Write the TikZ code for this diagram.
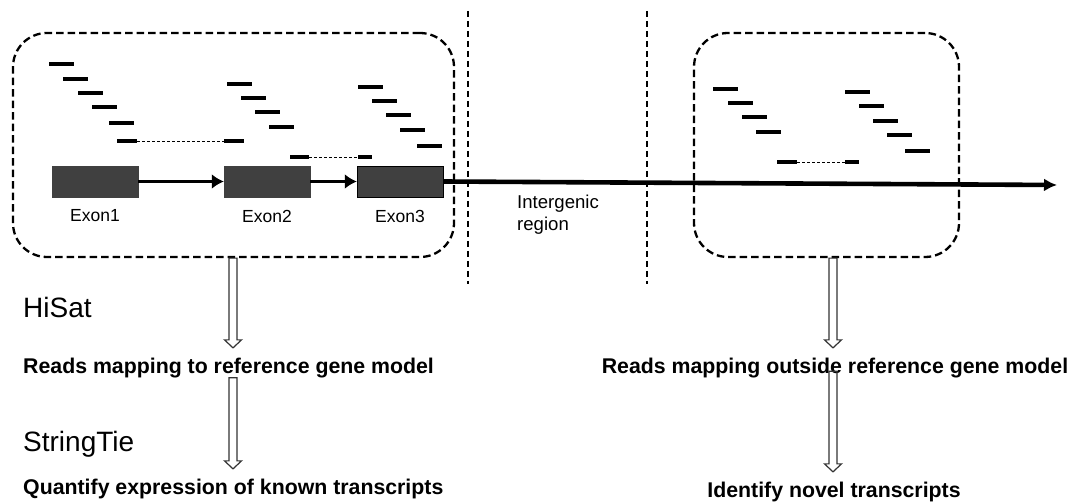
\documentclass[tikz,border=0pt]{standalone}
\usepackage{fontspec}
\setmainfont{Liberation Sans}
\usepackage{tikz}
\usetikzlibrary{arrows.meta}
\usetikzlibrary{calc}
\usetikzlibrary{positioning}

\begin{document}
\begin{tikzpicture}
	[
	x=1pt, y=-1pt,
	> = latex,
	readbox/.style = {draw, line width=2.3pt, dash pattern=on 7.5pt off 4pt, rounded corners=34pt, inner sep=0pt},
	exon/.style = {draw=black!75, fill=black!75, minimum width=86pt, minimum height=31pt, inner sep=0pt},
	exlabel/.style = {font=\fontsize{17.5}{20}\selectfont, inner sep=0pt},
	tool/.style = {font=\fontsize{28}{32}\selectfont, inner sep=0pt, anchor=base west},
	result/.style = {font=\fontsize{21.3}{25}\selectfont\bfseries, inner sep=0pt, anchor=base},
	read/.style = {line width=3.4pt},
	gap/.style = {line width=0.9pt, dash pattern=on 3pt off 2pt},
	border/.style = {line width=2.2pt, dash pattern=on 6.5pt off 3.5pt},
	link/.style = {line width=3.6pt, -{Latex[length=12pt, width=15pt]}},
	hollow/.style = {draw=black!80, line width=1.2pt, to path={let \p1=(\tikztostart), \p2=(\tikztotarget) in
		({\x1-4pt},\y1) -- ({\x1-4pt},{\y2+8pt}) -- ({\x1-8.5pt},{\y2+8pt}) -- (\x1,\y2) -- ({\x1+8.5pt},{\y2+8pt}) -- ({\x1+4pt},{\y2+8pt}) -- ({\x1+4pt},\y1) -- cycle}}
	]
	\useasboundingbox (0,0) rectangle (1083,502);
	\node[readbox, minimum width=441pt, minimum height=224pt] (lbox) at (233.5,145) {};
	\node[readbox, minimum width=265pt, minimum height=224pt] (rbox) at (826.5,145) {};
	\draw[border] (468,11) -- (468,284);
	\draw[border] (647,11) -- (647,284);
	\node[exon] (ex1) at (95,181.5) {};
	\node[exon] (ex2) at (267,181.5) {};
	\node[exon, draw=black] (ex3) at (400,181.5) {};
	\node[exlabel, below=12.5pt of ex1] (lab1) {Exon1};
	\node[exlabel, below=12.5pt of ex2] (lab2) {Exon2};
	\node[exlabel, below=12.5pt of ex3] (lab3) {Exon3};
	\coordinate (tend) at (1057,185);
	\draw[link] (ex1) -- (ex2);
	\draw[link] (ex2) -- (ex3);
	\draw[line width=4.6pt, -{Latex[length=13pt, width=13pt]}] (ex3.east) -- (tend);
	\node[font=\fontsize{18.6}{21.5}\selectfont, align=left, anchor=north west, inner sep=0pt] (igr) at (517,195) {Intergenic\\region};
	\foreach \x/\y in {49/64, 63/79, 78/93, 92/107, 109/123, 227/84, 241/98, 255/112, 269/127,
		358/87, 372/101, 386/115, 400/130, 417/146, 713/89, 728/103, 742/117, 756/132,
		845/92, 859/106, 873/121, 887/135, 905/151}
		\draw[read] (\x,\y) -- ++(25,0);
	\foreach \a/\b/\c/\d/\y in {117/137/224/244/141, 290/309/358/372/157, 777/797/845/859/162}
	{
		\draw[read] (\a,\y) -- (\b,\y);
		\draw[gap] (\b,\y) -- (\c,\y);
		\draw[read] (\c,\y) -- (\d,\y);
	}
	\node[tool] (hisat) at (23,317) {HiSat};
	\node[tool] (stie) at (23,451) {StringTie};
	\node[result, anchor=base west] (mapL) at (23,373) {Reads mapping to reference gene model};
	\node[result, anchor=base west] (quant) at (23,494) {Quantify expression of known transcripts};
	\node[result] (mapR) at (835,373) {Reads mapping outside reference gene model};
	\node[result] (novel) at (834,497) {Identify novel transcripts};
	\coordinate (ax) at (233,0);
	\coordinate (bx) at (833,0);
	\coordinate (a1) at ([yshift=9.5pt]mapL.north -| ax);
	\coordinate (a2) at ([yshift=9.5pt]quant.north -| ax);
	\coordinate (b1) at ([yshift=9.5pt]mapR.north -| bx);
	\coordinate (b2) at ([yshift=9.5pt]novel.north -| bx);
	\coordinate (b0) at ([yshift=6.5pt]mapR.south -| bx);
	\draw[hollow] (lbox.south -| ax) to (a1);
	\draw[hollow] (mapL.south -| ax) to (a2);
	\draw[hollow] (rbox.south -| bx) to (b1);
	\draw[hollow] (b0) to (b2);
\end{tikzpicture}
\end{document}
